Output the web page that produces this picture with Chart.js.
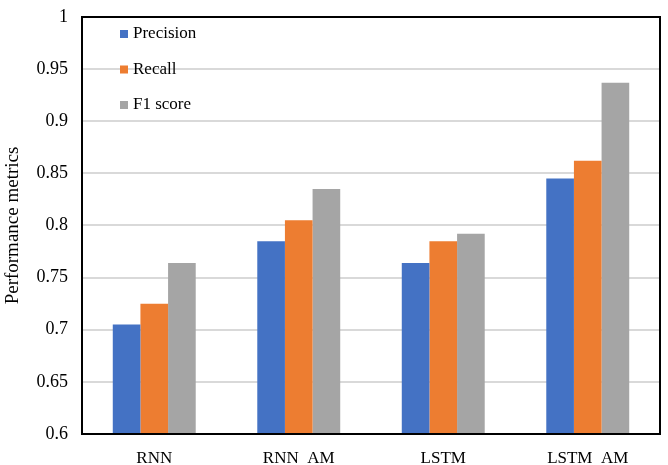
<!DOCTYPE html>
<html>
<head>
<meta charset="utf-8">
<script src="https://cdn.jsdelivr.net/npm/chart.js@4/dist/chart.umd.min.js"></script>
<style>
  html, body { margin: 0; padding: 0; background: #ffffff; }
  #wrap { width: 668px; height: 465px; position: relative; }
</style>
</head>
<body>
<div id="wrap"><canvas id="chart"></canvas></div>
<script>
// Model variants and their scores
const categories = ['RNN', 'RNN  AM', 'LSTM', 'LSTM  AM'];
const precision = [0.705, 0.785, 0.764, 0.845];
const recall    = [0.725, 0.805, 0.785, 0.862];
const f1score   = [0.764, 0.835, 0.792, 0.937];
const seriesNames = ['Precision', 'Recall', 'F1 score'];
const yTicks = [0.6, 0.65, 0.7, 0.75, 0.8, 0.85, 0.9, 0.95, 1];

const colors = ['#4472C4', '#ED7D31', '#A5A5A5'];
const serif = "'Liberation Serif', 'Times New Roman', serif";

// Black frame around the plot area
const frame = {
  id: 'frame',
  afterDatasetsDraw(chart) {
    const a = chart.chartArea, c = chart.ctx;
    c.save();
    c.strokeStyle = '#000';
    c.lineWidth = 2;
    c.strokeRect(a.left, a.top, a.right - a.left, a.bottom - a.top);
    c.restore();
  }
};

// Legend stacked inside the top-left corner of the plot
const innerLegend = {
  id: 'innerLegend',
  afterDraw(chart) {
    const c = chart.ctx;
    const top = chart.chartArea.top;
    c.save();
    c.font = '17px ' + serif;
    c.textBaseline = 'middle';
    chart.data.datasets.forEach((ds, i) => {
      const y = top + 17 + i * 35.5;
      c.fillStyle = ds.backgroundColor;
      c.fillRect(120, y - 4, 8, 8);
      c.fillStyle = '#000';
      c.fillText(ds.label, 133, y);
    });
    c.restore();
  }
};

new Chart(document.getElementById('chart'), {
  type: 'bar',
  data: {
    labels: categories,
    datasets: [
      { label: seriesNames[0], data: precision, backgroundColor: colors[0] },
      { label: seriesNames[1], data: recall, backgroundColor: colors[1] },
      { label: seriesNames[2], data: f1score, backgroundColor: colors[2] }
    ]
  },
  options: {
    responsive: true,
    maintainAspectRatio: false,
    animation: false,
    layout: { padding: { top: 17, right: 8, bottom: 0, left: 0 } },
    datasets: { bar: { categoryPercentage: 0.574, barPercentage: 1.0 } },
    plugins: { legend: { display: false }, tooltip: { enabled: false } },
    scales: {
      x: {
        grid: { display: false, drawTicks: false },
        border: { display: true, color: '#000', width: 2 },
        ticks: { color: '#000', font: { family: serif, size: 17 }, padding: 14 },
        afterFit(scale) { scale.height = 31; scale.paddingLeft = 0; scale.paddingRight = 0; }
      },
      y: {
        min: 0.6,
        max: 1,
        afterBuildTicks(scale) { scale.ticks = yTicks.map(v => ({ value: v })); },
        grid: { color: '#d9d9d9', lineWidth: 2, drawTicks: false },
        border: { display: true, color: '#000', width: 2 },
        ticks: {
          color: '#000',
          font: { family: serif, size: 18 },
          padding: 14,
          callback: v => String(Math.round(v * 100) / 100)
        },
        title: {
          display: true,
          text: 'Performance metrics',
          color: '#000',
          font: { family: serif, size: 19 },
          padding: { top: 2, bottom: 4 }
        },
        afterFit(scale) { scale.width = 82; scale.paddingTop = 0; scale.paddingBottom = 0; }
      }
    }
  },
  plugins: [frame, innerLegend]
});
</script>
</body>
</html>
